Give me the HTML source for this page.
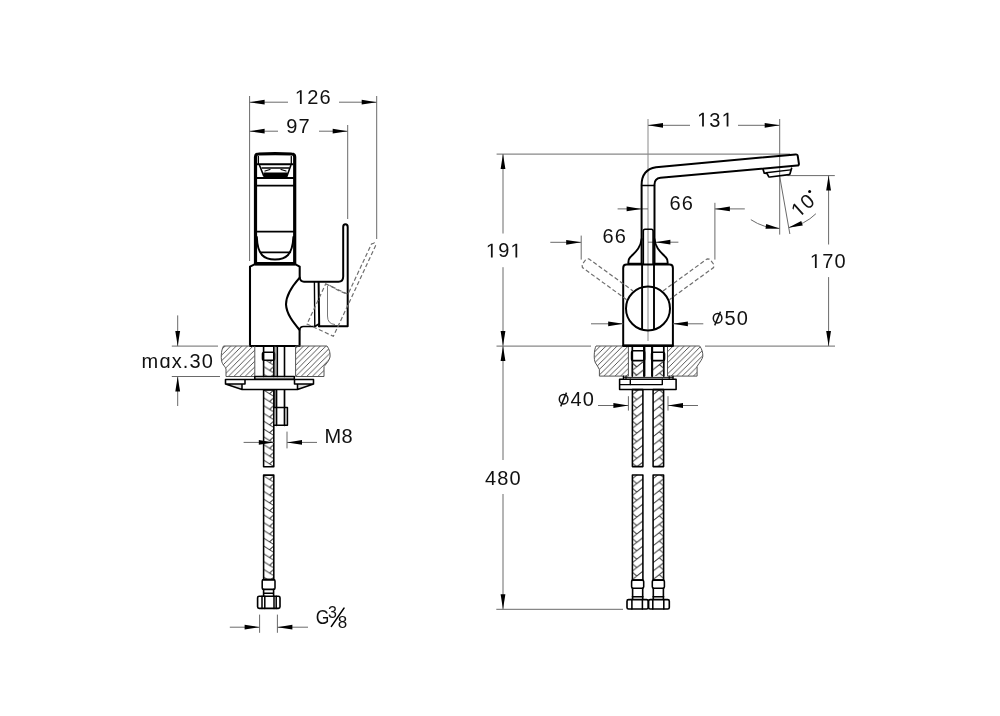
<!DOCTYPE html>
<html><head><meta charset="utf-8"><title>drawing</title>
<style>
html,body{margin:0;padding:0;background:#fff;}
svg{display:block;will-change:transform;}
.d{stroke:#6a6a6a;stroke-width:1;fill:none;}
.c{stroke:#8a8a8a;stroke-width:1;fill:none;}
.k{stroke:#000;stroke-width:1.75;fill:none;stroke-linecap:round;stroke-linejoin:round;}
.k2{stroke:#000;stroke-width:1.6;fill:none;stroke-linecap:round;}
.g{stroke:#777;stroke-width:1;fill:none;}
.ds{stroke:#6f6f6f;stroke-width:1.2;fill:none;stroke-dasharray:4.2 2.4;}
.h2{stroke:#555;stroke-width:1;fill:none;}
.ar{fill:#000;stroke:none;}
.tf{fill:#111;stroke:none;}
.tk{stroke:#111;stroke-width:1.5;fill:none;}
.t{font-family:"Liberation Sans",sans-serif;fill:#111;}
</style></head>
<body>
<svg width="1000" height="716" viewBox="0 0 1000 716">
<defs>
<pattern id="hatch" patternUnits="userSpaceOnUse" width="5.6" height="5.6">
<path d="M-1,6.6 L6.6,-1 M-1,1 L1,-1 M4.6,6.6 L6.6,4.6" stroke="#3a3a3a" stroke-width="0.85"/>
</pattern>
<pattern id="br1" patternUnits="userSpaceOnUse" x="263.60" y="0.00" width="10.20" height="7.8"><path d="M-1,-0.62 L11.20,6.94 M-1,-8.42 L11.20,-0.86 M-1,7.18 L11.20,14.74 M10.20,-0.08 L5.99,3.71 M10.20,7.72 L5.99,11.51 " stroke="#2a2a2a" stroke-width="0.95" fill="none"/></pattern><pattern id="br2" patternUnits="userSpaceOnUse" x="263.60" y="0.00" width="10.20" height="7.8"><path d="M-1,-0.62 L11.20,6.94 M-1,-8.42 L11.20,-0.86 M-1,7.18 L11.20,14.74 M10.20,-0.08 L5.99,3.71 M10.20,7.72 L5.99,11.51 " stroke="#2a2a2a" stroke-width="0.95" fill="none"/></pattern><pattern id="br3" patternUnits="userSpaceOnUse" x="263.60" y="0.00" width="10.20" height="7.8"><path d="M-1,-0.62 L11.20,6.94 M-1,-8.42 L11.20,-0.86 M-1,7.18 L11.20,14.74 M10.20,-0.08 L5.99,3.71 M10.20,7.72 L5.99,11.51 " stroke="#2a2a2a" stroke-width="0.95" fill="none"/></pattern><pattern id="br4" patternUnits="userSpaceOnUse" x="632.30" y="0.00" width="11.60" height="8.4"><path d="M-1,9.83 L12.60,-0.78 M-1,1.43 L12.60,-9.18 M-1,18.23 L12.60,7.62 M0,1.85 L4.42,5.60 M0,10.25 L4.42,14.00 " stroke="#2a2a2a" stroke-width="0.95" fill="none"/></pattern><pattern id="br5" patternUnits="userSpaceOnUse" x="652.30" y="0.00" width="11.50" height="8.4"><path d="M-1,9.75 L12.50,-0.78 M-1,1.35 L12.50,-9.18 M-1,18.15 L12.50,7.62 M11.50,7.20 L7.08,3.45 M11.50,-1.20 L7.08,-4.95 " stroke="#2a2a2a" stroke-width="0.95" fill="none"/></pattern><pattern id="br6" patternUnits="userSpaceOnUse" x="632.40" y="0.00" width="10.50" height="8.4"><path d="M-1,8.97 L11.50,-0.78 M-1,0.57 L11.50,-9.18 M-1,17.37 L11.50,7.62 M0,0.99 L4.42,4.74 M0,9.39 L4.42,13.14 " stroke="#2a2a2a" stroke-width="0.95" fill="none"/></pattern><pattern id="br7" patternUnits="userSpaceOnUse" x="632.40" y="0.00" width="10.50" height="8.4"><path d="M-1,8.97 L11.50,-0.78 M-1,0.57 L11.50,-9.18 M-1,17.37 L11.50,7.62 M0,0.99 L4.42,4.74 M0,9.39 L4.42,13.14 " stroke="#2a2a2a" stroke-width="0.95" fill="none"/></pattern><pattern id="br8" patternUnits="userSpaceOnUse" x="653.10" y="0.00" width="10.50" height="8.4"><path d="M-1,8.97 L11.50,-0.78 M-1,0.57 L11.50,-9.18 M-1,17.37 L11.50,7.62 M10.50,7.20 L6.08,3.45 M10.50,-1.20 L6.08,-4.95 " stroke="#2a2a2a" stroke-width="0.95" fill="none"/></pattern><pattern id="br9" patternUnits="userSpaceOnUse" x="653.10" y="0.00" width="10.50" height="8.4"><path d="M-1,8.97 L11.50,-0.78 M-1,0.57 L11.50,-9.18 M-1,17.37 L11.50,7.62 M10.50,7.20 L6.08,3.45 M10.50,-1.20 L6.08,-4.95 " stroke="#2a2a2a" stroke-width="0.95" fill="none"/></pattern>
</defs>
<rect width="1000" height="716" fill="#fff"/>
<line class="d" x1="249.60" y1="96.00" x2="249.60" y2="261.00"/>
<line class="d" x1="376.70" y1="96.00" x2="376.70" y2="239.00"/>
<line class="d" x1="347.70" y1="125.00" x2="347.70" y2="219.00"/>
<line class="d" x1="249.60" y1="102.20" x2="288.00" y2="102.20"/>
<line class="d" x1="339.00" y1="102.20" x2="376.70" y2="102.20"/>
<path class="ar" d="M249.60,102.20 L264.60,99.80 L264.60,104.60 Z"/>
<path class="ar" d="M376.70,102.20 L361.70,104.60 L361.70,99.80 Z"/>
<path class="tf" transform="translate(294.88,103.90) scale(0.00977,-0.00977)" d="M515,0 L515,1237 L197,1010 L197,1180 L530,1409 L696,1409 L696,0 Z"/>
<text class="t" x="307.15 319.42" y="103.90" style="font-size:20px">26</text>
<line class="d" x1="249.60" y1="131.20" x2="278.00" y2="131.20"/>
<line class="d" x1="319.00" y1="131.20" x2="347.70" y2="131.20"/>
<path class="ar" d="M249.60,131.20 L264.60,128.80 L264.60,133.60 Z"/>
<path class="ar" d="M347.70,131.20 L332.70,133.60 L332.70,128.80 Z"/>
<text class="t" x="286.26 298.54" y="132.60" style="font-size:20px">97</text>
<path class="k" d="M255.5,263.7 L255.5,157 Q255.5,154 258.5,154 Q275,153.3 291.7,154 Q294.7,154 294.7,157 L294.7,263.7 Z" style="stroke-width:3.2"/>
<path class="k" d="M258.4,156.5 L258.4,164.3 M291.3,156.5 L291.3,164.3" style="stroke-width:1.3"/>
<path class="k" d="M257.5,164.3 L292.5,164.3" style="stroke-width:2.06"/>
<path class="k" d="M259.6,165.5 L263.6,175.6 L287.2,175.6 L290.8,165.5" style="stroke-width:1.55"/>
<path class="k" d="M262,168 L289,168" style="stroke-width:1.3"/>
<rect x="263.5" y="172.5" width="24" height="4.5" fill="#000"/>
<path class="k" d="M265,171 L270,169.5 M281,169.5 L286,171" style="stroke-width:1.2"/>
<path class="k" d="M256,178 L294,178" style="stroke-width:2.24"/>
<path class="k" d="M256,185.6 L294,185.6" style="stroke-width:1.89"/>
<path class="k" d="M256,231.6 L294,231.6" style="stroke-width:1.81"/>
<path class="k" d="M256.8,237 C257.5,255 264,259.5 275,259.5 C286,259.5 292.5,255 293.4,237" style="stroke-width:1.98"/>
<path class="k" d="M260.7,252.4 L290.3,252.4" style="stroke-width:1.63"/>
<path class="k" d="M250,346 L250,266.6 L254.5,264.4 L295.5,264.4 L299.7,266.6 L299.7,277.6 C294,284 286,294 286,304.4 C286.5,314 293,322 299.6,330 L299.6,346 Z" style="stroke-width:2.06"/>
<path class="k" d="M299.7,277.6 Q300.5,281.7 304,281.7 L338.5,281.7 Q343.2,281.7 343.2,276.5 L343.2,227 Q343.2,224.3 345.4,224.3 Q347.7,224.3 347.7,227 L347.7,326.3 L318.9,326.3" style="stroke-width:1.98"/>
<path class="k" d="M318.6,282 L319.2,326.3" style="stroke-width:1.98"/>
<path class="k" d="M314.4,282 L314.8,326.5" style="stroke-width:1.4"/>
<path class="k" d="M299.6,330 Q300,326.5 303.5,326.5 L314.8,326.5 L318.9,324" style="stroke-width:1.72"/>
<path class="g" d="M327.5,286 L327.5,316 Q327.5,324 335,324.5" />
<path class="ds" d="M325.73,283.85 L348.02,294.24 L371.48,243.94 L374.45,242.90 L375.56,245.84 L333.38,336.29 L307.01,324.00 Z" />
<path class="ds" d="M330,285.5 Q338,291 346,293.5" />
<clipPath id="cl1"><path d="M223.5,346 C221,350 220.5,360 222.5,363.5 C223.5,365.5 225.5,367 226,369 L226,376.5 L254.8,376.5 L254.8,346 Z"/></clipPath>
<clipPath id="cl2"><path d="M295.6,346 L327,346 C329.5,349 330.5,354 330,357 C329.5,360 327,363 324,366.5 L324,376.5 L295.6,376.5 Z"/></clipPath>
<rect x="215" y="340" width="45" height="40" fill="url(#hatch)" clip-path="url(#cl1)"/>
<rect x="290" y="340" width="45" height="40" fill="url(#hatch)" clip-path="url(#cl2)"/>
<path class="h2" d="M223.5,346 C221,350 220.5,360 222.5,363.5 C223.5,365.5 225.5,367 226,369 L226,376.5 L254.8,376.5 L254.8,346" />
<path class="h2" d="M295.6,346 L327,346 C329.5,349 330.5,354 330,357 C329.5,360 327,363 324,366.5 L324,376.5 L295.6,376.5 Z" />
<path class="h2" d="M223.5,346 L250,346" />
<path class="k" d="M263.6,346 L263.6,376.5 M273.8,346 L273.8,376.5" style="stroke-width:1.6"/>
<rect class="k" style="stroke-width:1.6" x="262.5" y="352.3" width="12" height="8" rx="1.8"/>
<path class="k" d="M275.0,346 L275.0,376.5" style="stroke-width:0.8;stroke:#333"/>
<path class="k" d="M277.3,346 L277.3,376.5 M284.5,346 L284.5,376.5" style="stroke-width:1.6"/>
<rect x="263.60" y="360.80" width="10.20" height="15.50" fill="url(#br1)"/>
<path class="k" d="M254.8,376.6 L254.8,379.3 L294.3,379.3 L294.3,376.6 Z" style="stroke-width:1.5"/>
<path d="M225.5,384 L242,384 L242,389.5 Z M313.5,384 L297.5,384 L297.5,389.5 Z" fill="#ddd"/>
<path class="k" d="M225.5,379.5 L313.5,379.5 L313.5,384 L294.5,384 L294.5,379.5 M313.5,384 L297.5,389.5 L242,389.5 L225.5,384 L225.5,379.5 M225.5,384 L245,384 L245,379.5 M242,384 L242,389.5 M297.5,384 L297.5,389.5" style="stroke-width:1.55"/>
<rect x="263.60" y="390.00" width="10.20" height="76.70" fill="url(#br2)"/>
<path class="k" style="stroke-width:1.55" d="M263.6,390 L263.6,466.7 L273.8,466.7 L273.8,390 Z"/>
<rect x="263.60" y="475.10" width="10.20" height="104.50" fill="url(#br3)"/>
<path class="k" style="stroke-width:1.55" d="M263.6,475.1 L263.6,579.6 L273.8,579.6 L273.8,475.1 Z"/>
<path class="k" d="M274.8,390 L274.8,407.5" style="stroke-width:1.0"/>
<path class="k" d="M276.5,390 L276.5,425.3 M284.5,390 L284.5,425.3" style="stroke-width:1.7"/>
<path class="k" d="M273.8,407.5 L287.4,407.5 L287.4,425.3 L273.8,425.3" style="stroke-width:1.55"/>
<line class="d" x1="243.60" y1="442.40" x2="273.80" y2="442.40"/>
<path class="ar" d="M273.80,442.40 L258.80,444.80 L258.80,440.00 Z"/>
<line class="d" x1="287.00" y1="431.60" x2="287.00" y2="448.40"/>
<line class="d" x1="287.00" y1="442.40" x2="317.00" y2="442.40"/>
<path class="ar" d="M287.00,442.40 L302.00,440.00 L302.00,444.80 Z"/>
<text class="t" x="324.56 341.42" y="443.40" style="font-size:20px">M8</text>
<rect class="k" style="stroke-width:1.55" x="262.2" y="579.6" width="12.8" height="9.8" rx="1.5"/>
<path class="k" d="M263.6,589.4 L263.6,596 M273.6,589.4 L273.6,596 M263.6,593.2 L273.6,593.2" style="stroke-width:1.6"/>
<rect class="k" style="stroke-width:1.63" x="257.6" y="596.2" width="22.4" height="12.2" rx="1.6"/>
<path class="k" d="M262,596.2 L262,608.4 M264.8,596.2 L264.8,608.4 M274,596.2 L274,608.4 M276.2,596.2 L276.2,608.4" style="stroke-width:1.5"/>
<line class="d" x1="259.60" y1="614.60" x2="259.60" y2="632.80"/>
<line class="d" x1="277.40" y1="614.60" x2="277.40" y2="632.80"/>
<line class="d" x1="229.80" y1="627.20" x2="259.60" y2="627.20"/>
<path class="ar" d="M259.60,627.20 L244.60,629.60 L244.60,624.80 Z"/>
<line class="d" x1="277.40" y1="627.20" x2="308.00" y2="627.20"/>
<path class="ar" d="M277.40,627.20 L292.40,624.80 L292.40,629.60 Z"/>
<text class="t" transform="translate(315.72,624.10) scale(0.85,1)" style="font-size:20.6px">G</text>
<text class="t" x="328.09" y="617.70" style="font-size:16px">3</text>
<line class="k2" x1="331.40" y1="626.40" x2="344.00" y2="608.10"/>
<text class="t" x="337.86" y="628.20" style="font-size:17px">8</text>
<line class="d" x1="171.80" y1="346.10" x2="218.00" y2="346.10"/>
<line class="d" x1="171.80" y1="376.50" x2="220.00" y2="376.50"/>
<line class="d" x1="177.70" y1="315.40" x2="177.70" y2="346.10"/>
<path class="ar" d="M177.70,346.10 L175.30,331.10 L180.10,331.10 Z"/>
<line class="d" x1="177.70" y1="376.50" x2="177.70" y2="406.00"/>
<path class="ar" d="M177.70,376.50 L180.10,391.50 L175.30,391.50 Z"/>
<text class="t" x="141.57 159.38 171.66 182.81 189.51 201.78" y="367.90" style="font-size:20px">mɑx.30</text>
<line class="d" x1="496.60" y1="154.10" x2="790.00" y2="154.10"/>
<line class="d" x1="503.00" y1="154.10" x2="503.00" y2="233.50"/>
<line class="d" x1="503.00" y1="267.20" x2="503.00" y2="346.10"/>
<path class="ar" d="M503.00,154.10 L505.40,169.10 L500.60,169.10 Z"/>
<path class="ar" d="M503.00,346.10 L500.60,331.10 L505.40,331.10 Z"/>
<path class="tf" transform="translate(485.88,257.40) scale(0.00977,-0.00977)" d="M515,0 L515,1237 L197,1010 L197,1180 L530,1409 L696,1409 L696,0 Z"/>
<path class="tf" transform="translate(510.42,257.40) scale(0.00977,-0.00977)" d="M515,0 L515,1237 L197,1010 L197,1180 L530,1409 L696,1409 L696,0 Z"/>
<text class="t" x="498.15" y="257.40" style="font-size:20px">9</text>
<line class="d" x1="496.50" y1="346.10" x2="591.00" y2="346.10"/>
<line class="d" x1="705.00" y1="346.10" x2="835.00" y2="346.10"/>
<line class="d" x1="503.00" y1="346.10" x2="503.00" y2="460.00"/>
<line class="d" x1="503.00" y1="494.00" x2="503.00" y2="609.30"/>
<path class="ar" d="M503.00,346.10 L505.40,361.10 L500.60,361.10 Z"/>
<path class="ar" d="M503.00,609.30 L500.60,594.30 L505.40,594.30 Z"/>
<text class="t" x="485.04 497.31 509.59" y="485.20" style="font-size:20px">480</text>
<line class="d" x1="496.30" y1="609.30" x2="623.00" y2="609.30"/>
<line class="d" x1="787.40" y1="175.60" x2="834.80" y2="175.60"/>
<line class="d" x1="828.60" y1="175.60" x2="828.60" y2="244.50"/>
<line class="d" x1="828.60" y1="277.10" x2="828.60" y2="346.10"/>
<path class="ar" d="M828.60,175.60 L831.00,190.60 L826.20,190.60 Z"/>
<path class="ar" d="M828.60,346.10 L826.20,331.10 L831.00,331.10 Z"/>
<path class="tf" transform="translate(809.88,267.90) scale(0.00977,-0.00977)" d="M515,0 L515,1237 L197,1010 L197,1180 L530,1409 L696,1409 L696,0 Z"/>
<text class="t" x="822.15 834.42" y="267.90" style="font-size:20px">70</text>
<line class="c" x1="648.00" y1="119.00" x2="648.00" y2="341.00"/>
<line class="d" x1="779.70" y1="119.00" x2="779.70" y2="234.60"/>
<line class="d" x1="648.00" y1="125.30" x2="690.00" y2="125.30"/>
<line class="d" x1="738.00" y1="125.30" x2="779.70" y2="125.30"/>
<path class="ar" d="M648.00,125.30 L663.00,122.90 L663.00,127.70 Z"/>
<path class="ar" d="M779.70,125.30 L764.70,127.70 L764.70,122.90 Z"/>
<path class="tf" transform="translate(697.08,126.50) scale(0.00977,-0.00977)" d="M515,0 L515,1237 L197,1010 L197,1180 L530,1409 L696,1409 L696,0 Z"/>
<path class="tf" transform="translate(721.62,126.50) scale(0.00977,-0.00977)" d="M515,0 L515,1237 L197,1010 L197,1180 L530,1409 L696,1409 L696,0 Z"/>
<text class="t" x="709.35" y="126.50" style="font-size:20px">3</text>
<line class="d" x1="779.70" y1="176.40" x2="789.86" y2="234.01"/>
<path class="d" d="M750.85,219.66 A52.0,52.0 0 0 0 779.70,228.40"/>
<path class="d" d="M788.73,227.61 A52.0,52.0 0 0 0 815.89,213.74"/>
<path class="ar" d="M779.70,228.40 L765.50,228.69 L766.21,223.95 Z"/>
<path class="ar" d="M788.73,227.61 L801.24,220.88 L802.77,225.43 Z"/>
<g transform="translate(798.7,218.3) rotate(-42)">
<path class="tf" transform="translate(0.00,0.00) scale(0.00977,-0.00977)" d="M515,0 L515,1237 L197,1010 L197,1180 L530,1409 L696,1409 L696,0 Z"/>
<text class="t" x="12.1" y="0" style="font-size:20px">0</text>
</g>
<circle cx="809.6" cy="191.6" r="1.5" fill="#000"/>
<line class="d" x1="617.60" y1="208.90" x2="648.00" y2="208.90"/>
<path class="ar" d="M641.60,208.90 L626.60,211.30 L626.60,206.50 Z"/>
<line class="d" x1="714.90" y1="202.80" x2="714.90" y2="259.60"/>
<line class="d" x1="714.90" y1="208.90" x2="744.80" y2="208.90"/>
<path class="ar" d="M714.90,208.90 L729.90,206.50 L729.90,211.30 Z"/>
<text class="t" x="669.38 681.66" y="209.50" style="font-size:20px">66</text>
<line class="d" x1="550.30" y1="242.30" x2="581.20" y2="242.30"/>
<path class="ar" d="M581.20,242.30 L566.20,244.70 L566.20,239.90 Z"/>
<line class="d" x1="581.20" y1="235.60" x2="581.20" y2="259.60"/>
<line class="d" x1="648.00" y1="242.20" x2="678.40" y2="242.20"/>
<path class="ar" d="M655.40,242.20 L670.40,239.80 L670.40,244.60 Z"/>
<text class="t" x="602.48 614.76" y="242.80" style="font-size:20px">66</text>
<path class="k" d="M641.6,264 L641.6,185 Q641.6,169.5 656,167.2 L795.5,154.4 Q797.6,154.2 797.8,156.3 L798.9,163.6 Q799.1,165.4 797.2,165.6 L660.5,177.8 Q654.5,178.6 654.5,184.5 L654.5,264" style="stroke-width:1.98"/>
<path class="k" d="M641.6,185.5 L654.5,185.5" style="stroke-width:1.4"/>
<path class="k" d="M763.1,169.4 L764.3,173.2 L766.9,173.4 L768.6,176.4 Q769.1,177.1 770,177 L789,174.7 Q789.8,174.6 790,173.8 L791.6,168.2" style="stroke-width:1.7"/>
<path class="k" d="M766,172.8 L790.6,169.9" style="stroke-width:1.4"/>
<path class="k" d="M643.3,264 L643.3,231 Q643.3,229.2 645,229.2 L651.4,229.2 Q653.1,229.2 653.1,231 L653.1,264" style="stroke-width:1.63"/>
<path class="k" d="M641.6,239 C640.5,249 634,253 630,257.5 Q628,259.5 628.4,263.8 L641.6,263.8" style="stroke-width:1.89"/>
<path class="k" d="M654.5,239 C655.5,249 662,253 666,257.5 Q668,259.5 667.6,263.8 L654.5,263.8" style="stroke-width:1.89"/>
<path class="k" d="M623.2,345.6 L623.2,268 Q623.2,264.6 626.6,264.6 L669.5,264.6 Q672.9,264.6 672.9,268 L672.9,345.6 Z" style="stroke-width:1.98"/>
<circle class="k" style="stroke-width:1.98" cx="648" cy="308.5" r="22"/>
<path class="k" d="M642.1,265 L642.1,329 M654,265 L654,329" style="stroke-width:1.89"/>
<path class="ds" d="M626.62,299.64 L582.45,267.55 L582.01,264.76 L586.01,259.26 L588.80,258.81 L632.97,290.91" />
<path class="ds" d="M663.03,290.91 L707.20,258.81 L709.99,259.26 L713.99,264.76 L713.55,267.55 L669.38,299.64" />
<line class="d" x1="591.00" y1="323.80" x2="623.20" y2="323.80"/>
<path class="ar" d="M623.20,323.80 L608.20,326.20 L608.20,321.40 Z"/>
<line class="d" x1="672.90" y1="323.80" x2="703.30" y2="323.80"/>
<path class="ar" d="M672.90,323.80 L687.90,321.40 L687.90,326.20 Z"/>
<ellipse class="tk" cx="717.60" cy="318.20" rx="4.3" ry="4.7"/>
<line class="tk" x1="714.70" y1="325.40" x2="720.50" y2="311.60"/>
<text class="t" x="724.60 736.87" y="324.80" style="font-size:20px">50</text>
<clipPath id="cr1"><path d="M596,346 C594,350 593.5,360 595.5,363 C596.5,365 598.5,367 599.4,369.6 L599.4,376.1 L628.4,376.1 L628.4,346 Z"/></clipPath>
<clipPath id="cr2"><path d="M667.5,346 L699.7,346 C702,349 703,353 702.8,356.3 C702.5,359 700,362 697.1,366.3 L697.1,376.1 L667.5,376.1 Z"/></clipPath>
<rect x="585" y="340" width="50" height="40" fill="url(#hatch)" clip-path="url(#cr1)"/>
<rect x="660" y="340" width="50" height="40" fill="url(#hatch)" clip-path="url(#cr2)"/>
<path class="h2" d="M623.2,346 L596,346 C594,350 593.5,360 595.5,363 C596.5,365 598.5,367 599.4,369.6 L599.4,376.1 L628.4,376.1 L628.4,346" />
<path class="h2" d="M667.5,346 L667.5,376.1 L697.1,376.1 L697.1,366.3 C700,362 702.5,359 702.8,356.3 C703,353 702,349 699.7,346 L672.9,346" />
<path class="k" d="M623.2,345.8 L672.9,345.8" style="stroke-width:2.24"/>
<path class="k" d="M632.3,346 L632.3,376.1 M643.9,346 L643.9,376.1" style="stroke-width:1.7"/>
<rect class="k" style="stroke-width:1.6" x="631.60" y="350.7" width="13.00" height="9.90" rx="1.8"/>
<path class="k" d="M652.3,346 L652.3,376.1 M663.8,346 L663.8,376.1" style="stroke-width:1.7"/>
<rect class="k" style="stroke-width:1.6" x="651.60" y="352.3" width="12.90" height="8.30" rx="1.8"/>
<rect x="632.30" y="361.50" width="11.60" height="14.60" fill="url(#br4)"/>
<rect x="652.30" y="361.50" width="11.50" height="14.60" fill="url(#br5)"/>
<path class="k" d="M644.6,346 L644.6,376.1 M651.9,346 L651.9,376.1" style="stroke-width:1.6"/>
<path class="k" d="M623.4,376.1 L623.4,379.2 M673,376.1 L673,379.2" style="stroke-width:1.3"/>
<path class="k" d="M623.4,377.4 L673,377.4" style="stroke-width:0.9"/>
<path class="k" d="M626,376.1 L626,379.2 M669.2,376.1 L669.2,379.2" style="stroke-width:1"/>
<rect class="k" style="stroke-width:1.55" x="619.6" y="379.3" width="56.5" height="10.3"/>
<path class="k" d="M630.3,379.3 L630.3,384.6 L662.3,384.6 L662.3,379.3" style="stroke-width:1.4"/>
<path class="k" d="M620,384.6 L630.3,384.6" style="stroke-width:1.2"/>
<rect x="632.40" y="389.60" width="10.50" height="77.00" fill="url(#br6)"/>
<path class="k" style="stroke-width:1.55" d="M632.4,389.6 L632.4,466.6 L642.9,466.6 L642.9,389.6 Z"/>
<rect x="632.40" y="474.90" width="10.50" height="105.20" fill="url(#br7)"/>
<path class="k" style="stroke-width:1.55" d="M632.4,474.9 L632.4,580.1 L642.9,580.1 L642.9,474.9 Z"/>
<rect class="k" style="stroke-width:1.55" x="631.6" y="580.1" width="12.10" height="8.1" rx="1.5"/>
<path class="k" d="M632.6,588.2 L632.6,598.9 M642.6999999999999,588.2 L642.6999999999999,598.9" style="stroke-width:1.6"/>
<path class="k" d="M632.4,596.8 L642.9,596.8" style="stroke-width:1.5"/>
<rect x="653.10" y="389.60" width="10.50" height="77.00" fill="url(#br8)"/>
<path class="k" style="stroke-width:1.55" d="M653.1,389.6 L653.1,466.6 L663.6,466.6 L663.6,389.6 Z"/>
<rect x="653.10" y="474.90" width="10.50" height="105.20" fill="url(#br9)"/>
<path class="k" style="stroke-width:1.55" d="M653.1,474.9 L653.1,580.1 L663.6,580.1 L663.6,474.9 Z"/>
<rect class="k" style="stroke-width:1.55" x="652.3000000000001" y="580.1" width="12.10" height="8.1" rx="1.5"/>
<path class="k" d="M653.3000000000001,588.2 L653.3000000000001,598.9 M663.4,588.2 L663.4,598.9" style="stroke-width:1.6"/>
<path class="k" d="M653.1,596.8 L663.6,596.8" style="stroke-width:1.5"/>
<rect class="k" style="stroke-width:1.63" x="627" y="599.6" width="21.2" height="9.4" rx="1.6"/>
<rect class="k" style="stroke-width:1.63" x="648.6" y="599.6" width="20.7" height="9.4" rx="1.6"/>
<path class="k" d="M631.9,599.6 L631.9,609 M642.4,599.6 L642.4,609 M652.8,599.6 L652.8,609 M663.8,599.6 L663.8,609" style="stroke-width:1.55"/>
<line class="d" x1="628.40" y1="396.20" x2="628.40" y2="410.60"/>
<line class="d" x1="668.00" y1="396.20" x2="668.00" y2="410.60"/>
<line class="d" x1="598.00" y1="405.50" x2="628.40" y2="405.50"/>
<path class="ar" d="M628.40,405.50 L613.40,407.90 L613.40,403.10 Z"/>
<line class="d" x1="668.00" y1="405.50" x2="698.00" y2="405.50"/>
<path class="ar" d="M668.00,405.50 L683.00,403.10 L683.00,407.90 Z"/>
<ellipse class="tk" cx="563.60" cy="399.20" rx="4.3" ry="4.7"/>
<line class="tk" x1="560.70" y1="406.40" x2="566.50" y2="392.60"/>
<text class="t" x="570.60 582.87" y="405.80" style="font-size:20px">40</text>
</svg>
</body></html>
